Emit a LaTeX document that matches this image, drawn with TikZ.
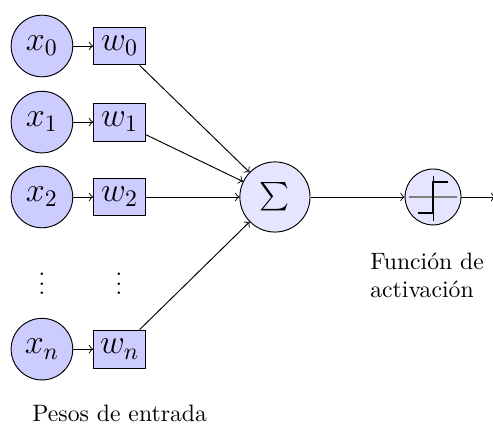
\documentclass[tikz,border=0pt]{standalone}
\usepackage{exscale}
\usetikzlibrary{positioning}
\tikzset{
  inpt/.style={draw,circle,fill=blue!20,minimum size=26pt,inner sep=0pt,font=\Large},
  wbox/.style={draw,fill=blue!20,minimum width=22pt,minimum height=16pt,inner sep=1pt,font=\Large},
  sumnode/.style={draw,circle,fill=blue!10,minimum size=29.6pt,inner sep=0pt,font=\large},
  actnode/.style={draw,circle,fill=blue!10,minimum size=23.6pt,inner sep=0pt}
}
\begin{document}
\begin{tikzpicture}[x=1pt,y=1pt,node distance=8.4pt]
\useasboundingbox (0,0) rectangle (208,-183.1);
\node[inpt] (x0) at (17.7,-19.4) {$x_0$};
\node[inpt] (x1) at (17.7,-51.5) {$x_1$};
\node[inpt] (x2) at (17.7,-83.1) {$x_2$};
\node (xd) at (17.7,-116.8) {$\vdots$};
\node[inpt] (xn) at (17.7,-147.3) {$x_n$};
\node[wbox,right=of x0] (w0) {$w_0$};
\node[wbox,right=of x1] (w1) {$w_1$};
\node[wbox,right=of x2] (w2) {$w_2$};
\node (wd) at (50.2,-116.8) {$\vdots$};
\node[wbox,right=of xn] (wn) {$w_n$};
\node[sumnode] (sum) at (116,-83.1) {$\sum$};
\node[actnode] (act) at (182.7,-83.1) {};
\coordinate (out) at (209,-83.1);
% entradas
\foreach \i in {0,1,2,n} {
  \draw[->] (x\i) -- (w\i);
  \draw[->] (w\i) -- (sum);
}
\draw[->] (sum) -- (act);
\draw[->] (act) -- (out);
% escalon
\draw[gray,thick,shift={(act.center)}] (-10.1,0) -- (10.1,0);
\draw[shift={(act.center)}] (0,9) -- (0,-10);
\draw[thick,shift={(act.center)}] (-6.5,-6.6) -- (0,-6.6) -- (0,6.3) -- (6.5,6.3);
\node[below=8pt of act,xshift=-2.5pt,align=left] (lact) {Función de\\activación};
\node[below=12pt of wn] (lpesos) {Pesos de entrada};
\end{tikzpicture}
\end{document}
